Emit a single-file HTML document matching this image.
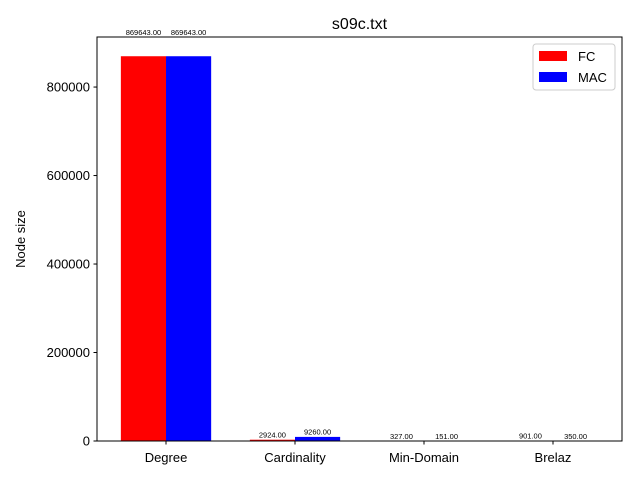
<!DOCTYPE html>
<html><head><meta charset="utf-8"><style>
body{margin:0;background:#fff}
svg{font-family:"Liberation Sans","DejaVu Sans",sans-serif}
</style></head><body>
<svg id="chart" width="640" height="480" xmlns="http://www.w3.org/2000/svg">
<rect width="640" height="480" fill="#fff"/>
<text x="359.5" y="29" font-size="16" text-anchor="middle">s09c.txt</text>
<text transform="translate(25,239) rotate(-90)" font-size="13" text-anchor="middle">Node size</text>
<g id="bars"></g>
<g id="axes"></g>
<g>
<rect x="533" y="44" width="82" height="46" rx="3" fill="#fff" stroke="#ccc"/>
<rect x="539" y="51" width="28" height="10" fill="#ff0000"/>
<text x="578" y="61" font-size="13">FC</text>
<rect x="539" y="72" width="28" height="10" fill="#0000ff"/>
<text x="578" y="82" font-size="13">MAC</text>
</g>
</svg>
<script>
const categories = ["Degree","Cardinality","Min-Domain","Brelaz"];
const fcValues = [869643, 2924, 327, 901];
const macValues = [869643, 9260, 151, 350];
const yTicks = [0, 200000, 400000, 600000, 800000];

const NS = "http://www.w3.org/2000/svg";
const L = 97, R = 622, T = 37, B = 441;
const yMax = Math.max(...fcValues, ...macValues) * 1.05;
const xMin = -0.535, xMax = categories.length - 1 + 0.535;
const xs = v => L + (v - xMin) / (xMax - xMin) * (R - L);
const ys = v => B - v / yMax * (B - T);
const bw = 0.35;
function mk(tag, attrs, parent){const e=document.createElementNS(NS,tag);for(const k in attrs)e.setAttribute(k,attrs[k]);parent.appendChild(e);return e;}
const bars = document.getElementById('bars'), axes = document.getElementById('axes');
function series(vals, off, color, name){
  vals.forEach((v,i)=>{
    const x0 = xs(i+off), x1 = xs(i+off+bw);
    const r = mk('rect',{x:x0,y:ys(v),width:x1-x0,height:B-ys(v),fill:color},bars);
    
    
    const t = mk('text',{x:(x0+x1)/2,y:ys(v*1.05)-2,'font-size':7.5,'text-anchor':'middle'},bars);
    t.textContent = v.toFixed(2);
    
    
  });
}
series(fcValues, -bw, '#ff0000', 'fc');
series(macValues, 0, '#0000ff', 'mac');
const frame = mk('rect',{x:L,y:T,width:R-L,height:B-T,fill:'none',stroke:'#000','stroke-width':1},axes);


yTicks.forEach(v=>{
  const y = ys(v);
  mk('line',{x1:L-3.5,x2:L,y1:y,y2:y,stroke:'#000'},axes);
  const t = mk('text',{x:L-7,y:y+4.5,'font-size':13,'text-anchor':'end'},axes);
  t.textContent = v;
  
  
});
categories.forEach((c,i)=>{
  const x = xs(i);
  mk('line',{x1:x,x2:x,y1:B,y2:B+3.5,stroke:'#000'},axes);
  const t = mk('text',{x:x,y:B+21,'font-size':13,'text-anchor':'middle'},axes);
  t.textContent = c;
  
  
});
</script>
</body></html>
